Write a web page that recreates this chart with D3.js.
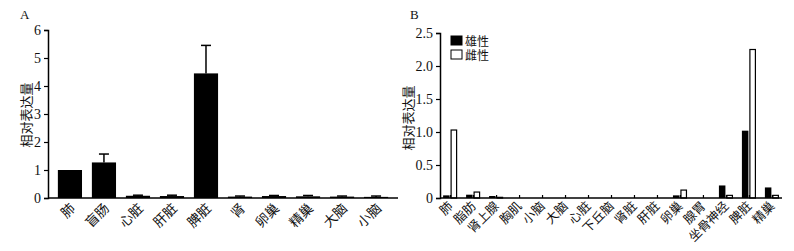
<!DOCTYPE html>
<html>
<head>
<meta charset="utf-8">
<script src="https://cdn.jsdelivr.net/npm/d3@7"></script>
<style>
  body { margin: 0; background: #fff; }
  text { font-family: "Liberation Serif", "Noto Sans CJK SC", serif; fill: #111; }
</style>
</head>
<body>
<script>
// panel A
const tissuesA = ["肺", "盲肠", "心脏", "肝脏", "脾脏", "肾", "卵巢", "精巢", "大脑", "小脑"];
const meanA = [1.0, 1.27, 0.08, 0.07, 4.45, 0.05, 0.07, 0.06, 0.05, 0.04];
const errA = [0.0, 0.3, 0.02, 0.03, 1.0, 0.02, 0.02, 0.03, 0.02, 0.03];
const ticksA = [0, 1, 2, 3, 4, 5, 6];

// panel B
const tissuesB = ["肺", "脂肪", "肾上腺", "胸肌", "小脑", "大脑", "心脏", "下丘脑", "肾脏", "肝脏", "卵巢", "腺胃", "坐骨神经", "脾脏", "精巢"];
const maleB = [0.04, 0.05, 0.03, 0, 0, 0, 0, 0, 0, 0, 0.04, 0, 0.19, 1.02, 0.16];
const femaleB = [1.03, 0.09, 0.01, 0, 0, 0, 0, 0, 0, 0, 0.12, 0, 0.04, 2.25, 0.04];
const ticksB = [0, 0.5, 1.0, 1.5, 2.0, 2.5];
const legendB = ["雄性", "雌性"];

const svg = d3.select("body")
    .append("svg")
    .attr("width", 794)
    .attr("height", 251);

// ---- A ----
const xA = d3.scaleBand().domain(tissuesA).range([48, 398]).paddingInner(0.29).paddingOuter(0.29);
const yA = d3.scaleLinear().domain([0, 6]).range([198, 30]);

const gA = svg.append("g");

gA.selectAll("rect.barA")
    .data(meanA)
    .enter().append("rect")
    .attr("class", "barA")
    .attr("x", function (d, i) { return xA(tissuesA[i]); })
    .attr("y", function (d) { return yA(d); })
    .attr("width", xA.bandwidth())
    .attr("height", function (d) { return yA(0) - yA(d); })
    .attr("fill", "#000");

gA.selectAll("g.errA")
    .data(meanA)
    .enter().append("g")
    .attr("class", "errA")
    .each(function (d, i) {
        if (errA[i] <= 0) return;
        const cx = xA(tissuesA[i]) + xA.bandwidth() / 2;
        const g = d3.select(this);
        g.append("line").attr("x1", cx).attr("x2", cx)
            .attr("y1", yA(d)).attr("y2", yA(d + errA[i]))
            .attr("stroke", "#000").attr("stroke-width", 1.5);
        g.append("line").attr("x1", cx - 5).attr("x2", cx + 5)
            .attr("y1", yA(d + errA[i])).attr("y2", yA(d + errA[i]))
            .attr("stroke", "#000").attr("stroke-width", 1.5);
    });

gA.append("g")
    .attr("transform", "translate(48,0)")
    .call(d3.axisLeft(yA).tickValues(ticksA).tickSize(4).tickFormat(d3.format("d")));

const xAxisA = gA.append("g")
    .attr("transform", "translate(0,198)")
    .call(d3.axisBottom(xA).tickSize(0).tickSizeOuter(0));
xAxisA.select(".domain").attr("d", "M48,0H398");
xAxisA.selectAll("text")
    .attr("text-anchor", "end")
    .attr("dy", null)
    .attr("transform", "translate(4,9) rotate(-45)")
    .style("font-size", "13.5px");

gA.append("text")
    .attr("transform", "translate(31,115) rotate(-90)")
    .attr("text-anchor", "middle")
    .style("font-size", "13px")
    .text("相对表达量");

gA.append("text")
    .attr("x", 20).attr("y", 19)
    .style("font-size", "13px")
    .text("A");

// ---- B ----
const xB = d3.scalePoint().domain(tissuesB).range([440, 782]).padding(0.44);
const yB = d3.scaleLinear().domain([0, 2.5]).range([198, 33]);
const bw = 6.5;

const gB = svg.append("g");

gB.selectAll("rect.male")
    .data(maleB)
    .enter().append("rect")
    .attr("class", "male")
    .attr("x", function (d, i) { return xB(tissuesB[i]) - bw - 0.5; })
    .attr("y", function (d) { return yB(d); })
    .attr("width", bw)
    .attr("height", function (d) { return yB(0) - yB(d); })
    .attr("fill", "#000");

gB.selectAll("rect.female")
    .data(femaleB)
    .enter().append("rect")
    .attr("class", "female")
    .attr("x", function (d, i) { return xB(tissuesB[i]) + 1; })
    .attr("y", function (d) { return yB(d); })
    .attr("width", bw - 1)
    .attr("height", function (d) { return yB(0) - yB(d); })
    .attr("fill", "#fff")
    .attr("stroke", function (d) { return d > 0 ? "#000" : "none"; })
    .attr("stroke-width", 1.2);

gB.append("g")
    .attr("transform", "translate(440,0)")
    .call(d3.axisLeft(yB).tickValues(ticksB).tickSize(4)
        .tickFormat(function (d) { return d === 0 ? "0" : d3.format(".1f")(d); }));

const xAxisB = gB.append("g")
    .attr("transform", "translate(0,198)")
    .call(d3.axisBottom(xB).tickSize(-3).tickSizeOuter(0));
xAxisB.select(".domain").attr("d", "M440,0H782");
xAxisB.selectAll("text")
    .attr("text-anchor", "end")
    .attr("dy", null)
    .attr("y", 0)
    .attr("transform", "translate(3,9) rotate(-45)")
    .style("font-size", "12.5px");

gB.append("text")
    .attr("transform", "translate(413,118) rotate(-90)")
    .attr("text-anchor", "middle")
    .style("font-size", "13px")
    .text("相对表达量");

gB.append("text")
    .attr("x", 410).attr("y", 19)
    .style("font-size", "13px")
    .text("B");

const legend = gB.selectAll("g.legend")
    .data(legendB)
    .enter().append("g")
    .attr("class", "legend")
    .attr("transform", function (d, i) { return "translate(451," + (36 + i * 14) + ")"; });
legend.append("rect")
    .attr("width", 11).attr("height", 9)
    .attr("fill", function (d, i) { return i === 0 ? "#000" : "#fff"; })
    .attr("stroke", "#000").attr("stroke-width", 1);
legend.append("text")
    .attr("x", 14).attr("y", 9.5)
    .style("font-size", "12px")
    .text(function (d) { return d; });

svg.selectAll(".domain").attr("stroke", "#000").attr("stroke-width", 1.5);
svg.selectAll(".tick line").attr("stroke", "#000").attr("stroke-width", 1.2);
svg.selectAll(".tick text").style("font-size", function () { return this.style.fontSize || "14px"; });
</script>
</body>
</html>
